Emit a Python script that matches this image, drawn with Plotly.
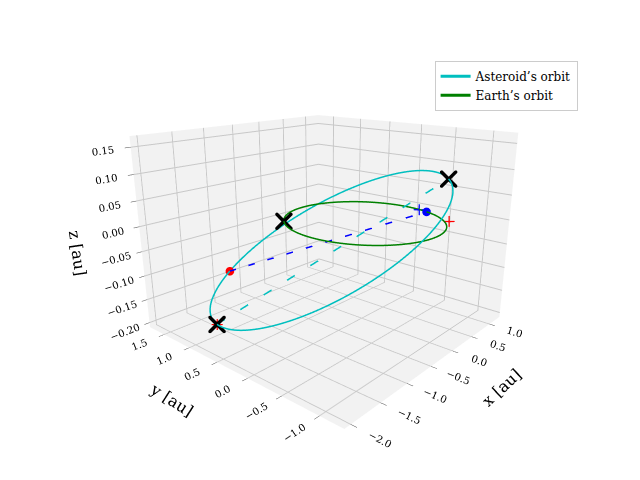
import numpy as np
import plotly.graph_objects as go

# Orbital elements (au, degrees)
ast_a = 1.5
ast_e = 0.33
ast_i = 5.0
ast_node = -125.0
ast_peri = 90.0
earth_r = 1.0

# Marker positions: true anomaly on the asteroid orbit (deg), angle on Earth's orbit (deg)
ast_now_nu = 150.0
ast_x_nu = [190.0, -15.0]
earth_now_deg = -20.0
earth_later_deg = -12.0
earth_x_deg = 135.0
red_plus = [[0.72, -0.78, 0.0]]


def ast_pos(nu_deg):
    nu = np.radians(nu_deg)
    r = ast_a * (1 - ast_e**2) / (1 + ast_e * np.cos(nu))
    i, O, w = np.radians([ast_i, ast_node, ast_peri])
    u = nu + w
    x = r * (np.cos(O) * np.cos(u) - np.sin(O) * np.sin(u) * np.cos(i))
    y = r * (np.sin(O) * np.cos(u) + np.cos(O) * np.sin(u) * np.cos(i))
    z = r * np.sin(u) * np.sin(i)
    return x, y, z


def earth_pos(deg):
    t = np.radians(deg)
    return earth_r * np.cos(t), earth_r * np.sin(t), 0 * t


grid = np.linspace(0, 360, 361)
ax, ay, az = ast_pos(grid)
ex, ey, ez = earth_pos(grid)
rn = ast_pos(np.array([ast_now_nu]))
xa = ast_pos(np.array(ast_x_nu))
en = earth_pos(np.array([earth_now_deg]))
el = earth_pos(np.array([earth_later_deg]))
xe = earth_pos(np.array([earth_x_deg]))
cyan = '#00bfbf'

fig = go.Figure()
fig.add_trace(go.Scatter3d(x=ax, y=ay, z=az, mode='lines', line=dict(color=cyan, width=3), name="Asteroid’s orbit"))
fig.add_trace(go.Scatter3d(x=ex, y=ey, z=ez, mode='lines', line=dict(color='green', width=3), name="Earth’s orbit"))
fig.add_trace(go.Scatter3d(x=[rn[0][0], en[0][0]], y=[rn[1][0], en[1][0]], z=[rn[2][0], en[2][0]],
                           mode='lines', line=dict(color='blue', width=3, dash='longdash'), showlegend=False))
fig.add_trace(go.Scatter3d(x=xa[0], y=xa[1], z=xa[2],
                           mode='lines', line=dict(color=cyan, width=3, dash='longdash'), showlegend=False))
fig.add_trace(go.Scatter3d(x=rn[0], y=rn[1], z=rn[2], mode='markers',
                           marker=dict(color='red', size=5), showlegend=False))
fig.add_trace(go.Scatter3d(x=en[0], y=en[1], z=en[2], mode='markers',
                           marker=dict(color='blue', size=5), showlegend=False))
fig.add_trace(go.Scatter3d(x=el[0], y=el[1], z=el[2], mode='markers',
                           marker=dict(color='blue', size=6, symbol='cross'), showlegend=False))
fig.add_trace(go.Scatter3d(x=[p[0] for p in red_plus] + [xa[0][0]], y=[p[1] for p in red_plus] + [xa[1][0]],
                           z=[p[2] for p in red_plus] + [xa[2][0]],
                           mode='markers', marker=dict(color='red', size=6, symbol='cross'), showlegend=False))
fig.add_trace(go.Scatter3d(x=np.r_[xa[0], xe[0]], y=np.r_[xa[1], xe[1]], z=np.r_[xa[2], xe[2]], mode='markers',
                           marker=dict(color='black', size=4, symbol='x'), showlegend=False))

axis_style = dict(backgroundcolor='#f2f2f2', gridcolor='#c8c8c8', showbackground=True,
                  zeroline=False, tickfont=dict(size=11), ticks='outside')
fig.update_layout(
    width=640, height=480,
    margin=dict(l=0, r=0, t=0, b=0),
    paper_bgcolor='white',
    font=dict(family='DejaVu Serif', color='black'),
    scene=dict(
        xaxis=dict(title=dict(text='x [au]', font=dict(size=16)), range=[-2.1, 1.3], dtick=0.5, tickformat='.1f', **axis_style),
        yaxis=dict(title=dict(text='y [au]', font=dict(size=16)), range=[-1.3, 1.8], dtick=0.5, tickformat='.1f', **axis_style),
        zaxis=dict(title=dict(text='z [au]', font=dict(size=16)), range=[-0.21, 0.17], dtick=0.05, tickformat='.2f', **axis_style),
        aspectmode='manual', aspectratio=dict(x=1, y=1, z=0.75),
        camera=dict(eye=dict(x=-1.6, y=-1.4, z=0.65), center=dict(x=0, y=0, z=-0.06)),
    ),
    legend=dict(x=0.89, y=0.89, xanchor='right', yanchor='top', bordercolor='#cccccc', borderwidth=1,
                font=dict(size=12)),
)
fig.write_html("out.html")
